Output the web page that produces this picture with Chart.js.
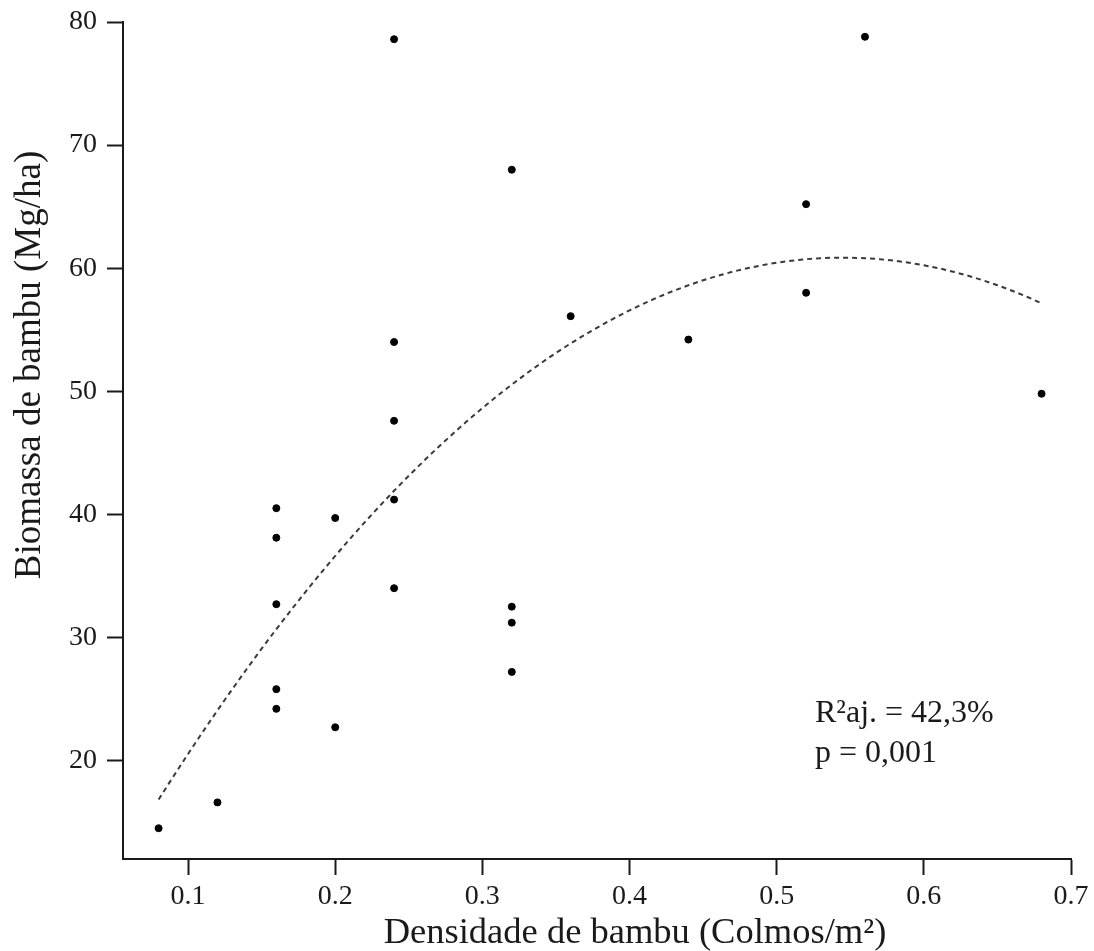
<!DOCTYPE html>
<html lang="pt">
<head>
<meta charset="utf-8">
<title>Biomassa de bambu</title>
<script src="https://cdn.jsdelivr.net/npm/chart.js@4.4.1/dist/chart.umd.min.js"></script>
<style>
  html, body { margin: 0; padding: 0; background: #fff; }
  #wrap { position: relative; width: 1094px; height: 951px; }
</style>
</head>
<body>
<div id="wrap"><canvas id="bambuChart" width="1094" height="951"></canvas></div>
<script>
// densidade (colmos/m2) e biomassa (Mg/ha) por parcela
const densidade = [0.08, 0.12, 0.16, 0.16, 0.16, 0.16, 0.16, 0.20, 0.20,
  0.24, 0.24, 0.24, 0.24, 0.24, 0.32, 0.32, 0.32, 0.32, 0.36, 0.44,
  0.52, 0.52, 0.56, 0.68];
const biomassa = [14.5, 16.6, 40.5, 38.1, 32.7, 25.8, 24.2, 39.7, 22.7,
  78.6, 54.0, 47.6, 41.2, 34.0, 68.0, 32.5, 31.2, 27.2, 56.1, 54.2,
  65.2, 58.0, 78.8, 49.8];

const xTicks = [0.1, 0.2, 0.3, 0.4, 0.5, 0.6, 0.7];
const yTicks = [20, 30, 40, 50, 60, 70, 80];
const statsText = ['R\u00B2aj. = 42,3%', 'p = 0,001'];

const serif = "'Liberation Serif', 'Times New Roman', serif";
const ink = '#1a1a1a';

// ajuste quadratico por minimos quadrados: y = a + b*x + c*x^2
function quadFit(xs, ys) {
  let s = [0, 0, 0, 0, 0], t = [0, 0, 0];
  xs.forEach((x, i) => {
    for (let k = 0; k < 5; k++) s[k] += Math.pow(x, k);
    for (let k = 0; k < 3; k++) t[k] += ys[i] * Math.pow(x, k);
  });
  const m = [
    [s[0], s[1], s[2], t[0]],
    [s[1], s[2], s[3], t[1]],
    [s[2], s[3], s[4], t[2]]
  ];
  // eliminacao de Gauss
  for (let i = 0; i < 3; i++) {
    for (let j = i + 1; j < 3; j++) {
      const f = m[j][i] / m[i][i];
      for (let k = i; k < 4; k++) m[j][k] -= f * m[i][k];
    }
  }
  const r = [0, 0, 0];
  for (let i = 2; i >= 0; i--) {
    let v = m[i][3];
    for (let k = i + 1; k < 3; k++) v -= m[i][k] * r[k];
    r[i] = v / m[i][i];
  }
  return r;
}

const coef = quadFit(densidade, biomassa);
const xMin = Math.min(...densidade), xMax = Math.max(...densidade);
const curva = [];
for (let i = 0; i <= 60; i++) {
  const x = xMin + (xMax - xMin) * i / 60;
  curva.push({ x: x, y: coef[0] + coef[1] * x + coef[2] * x * x });
}

const pontos = densidade.map((x, i) => ({ x: x, y: biomassa[i] }));

// titulos dos eixos e texto da estatistica
const textPlugin = {
  id: 'textos',
  afterDraw(chart) {
    const ctx = chart.ctx;
    ctx.save();
    ctx.fillStyle = ink;

    ctx.font = '32px ' + serif;
    ctx.textAlign = 'left';
    ctx.textBaseline = 'alphabetic';
    ctx.fillText(statsText[0], 815, 722);
    ctx.fillText(statsText[1], 815, 762);

    ctx.font = '36.5px ' + serif;
    ctx.textAlign = 'center';
    ctx.fillText('Densidade de bambu (Colmos/m\u00B2)', 635, 943);

    ctx.translate(40, 365);
    ctx.rotate(-Math.PI / 2);
    ctx.font = '37px ' + serif;
    ctx.fillText('Biomassa de bambu (Mg/ha)', 0, 0);
    ctx.restore();
  }
};

const axisStyle = {
  grid: { display: true, drawOnChartArea: false, drawTicks: true, tickLength: 16, tickWidth: 2, color: ink },
  border: { display: true, color: ink, width: 2 }
};

new Chart(document.getElementById('bambuChart'), {
  type: 'scatter',
  data: {
    datasets: [
      {
        label: 'Parcelas',
        data: pontos,
        backgroundColor: '#000',
        borderColor: '#000',
        pointRadius: 3.5,
        pointHoverRadius: 3.5,
        order: 1
      },
      {
        type: 'line',
        label: 'Ajuste',
        data: curva,
        borderColor: '#3a3a3a',
        borderWidth: 2,
        borderDash: [5, 4],
        pointRadius: 0,
        fill: false,
        tension: 0,
        order: 2
      }
    ]
  },
  options: {
    responsive: false,
    animation: false,
    devicePixelRatio: 1,
    layout: { padding: { top: 22, right: 23, bottom: 0, left: 0 } },
    plugins: { legend: { display: false }, tooltip: { enabled: false } },
    scales: {
      x: {
        type: 'linear',
        min: 0.0558,
        max: 0.7,
        ...axisStyle,
        afterBuildTicks: scale => { scale.ticks = xTicks.map(v => ({ value: v })); },
        afterFit: scale => {
          scale.height = 92;
          scale.paddingLeft = 0;
          scale.paddingRight = 0;
        },
        ticks: {
          padding: 5,
          color: ink,
          font: { family: serif, size: 28 },
          callback: v => v.toFixed(1)
        }
      },
      y: {
        type: 'linear',
        min: 12,
        max: 80,
        ...axisStyle,
        afterBuildTicks: scale => { scale.ticks = yTicks.map(v => ({ value: v })); },
        afterFit: scale => {
          scale.width = 123;
          scale.paddingTop = 0;
          scale.paddingBottom = 0;
        },
        ticks: {
          padding: 10,
          color: ink,
          font: { family: serif, size: 28 },
          callback: v => String(v)
        }
      }
    }
  },
  plugins: [textPlugin]
});
</script>
</body>
</html>
